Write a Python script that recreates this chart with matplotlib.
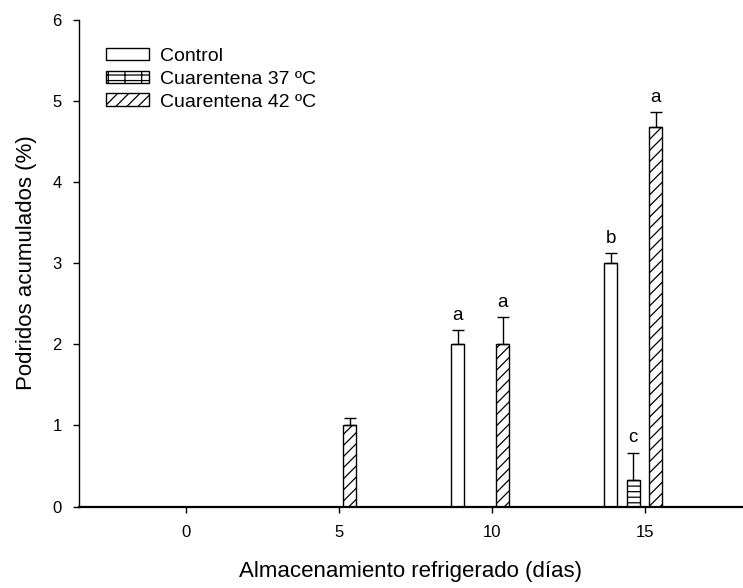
import matplotlib.pyplot as plt
import numpy as np

plt.rcParams['font.family'] = ['Liberation Sans', 'DejaVu Sans']
plt.rcParams['hatch.linewidth'] = 0.9

# datos
dias = [0, 5, 10, 15]
control = [0, 0, 2.0, 3.0]
control_err = [0, 0, 0.17, 0.12]
cuar37 = [0, 0, 0, 0.33]
cuar37_err = [0, 0, 0, 0.33]
cuar42 = [0, 1.0, 2.0, 4.67]
cuar42_err = [0, 0.09, 0.33, 0.19]
letras_control = ['', '', 'a', 'b']
letras_37 = ['', '', '', 'c']
letras_42 = ['', '', 'a', 'a']

fig = plt.figure(figsize=(7.43, 5.88), dpi=100)
ax = fig.add_axes([0.1063, 0.1386, 0.8937, 0.8282])

x = np.array(dias, dtype=float)
w = 0.43
series = [
    (control, control_err, letras_control, '', 'Control', -1.12),
    (cuar37, cuar37_err, letras_37, '---|', 'Cuarentena 37 ºC', -0.39),
    (cuar42, cuar42_err, letras_42, '///', 'Cuarentena 42 ºC', 0.35),
]
for vals, errs, letras, hatch, label, off in series:
    pos = x + off
    ax.bar(pos, vals, width=w, color='white', edgecolor='black', linewidth=1.0,
           hatch=hatch, label=label, zorder=2)
    for p, v, e, l in zip(pos, vals, errs, letras):
        if v > 0:
            ax.errorbar(p, v, yerr=[[0], [e]], fmt='none', ecolor='black',
                        elinewidth=1.0, capsize=4.5, capthick=1.0, zorder=3)
            ax.text(p, v + e + 0.08, l, ha='center', va='bottom', fontsize=13.5)

ax.set_xlim(-3.5, 18.2)
ax.set_ylim(0, 6)
ax.set_xticks(dias)
ax.set_yticks(range(0, 7))
ax.spines['top'].set_visible(False)
ax.spines['right'].set_visible(False)
ax.spines['bottom'].set_linewidth(1.6)
ax.spines['left'].set_linewidth(1.0)
ax.tick_params(axis='both', direction='out', labelsize=12, length=4.5, width=1.0)
ax.tick_params(axis='x', pad=9)
ax.tick_params(axis='y', pad=8)
ax.set_xlabel('Almacenamiento refrigerado (días)', fontsize=16, labelpad=15)
ax.set_ylabel('Podridos acumulados (%)', fontsize=16, labelpad=11)

ax.legend(loc='upper left', bbox_to_anchor=(0.0295, 0.958), frameon=False,
          fontsize=14, handlelength=2.2, handleheight=0.6, labelspacing=0.3,
          handletextpad=0.55, borderaxespad=0)

fig.savefig('out.png', dpi=100)
